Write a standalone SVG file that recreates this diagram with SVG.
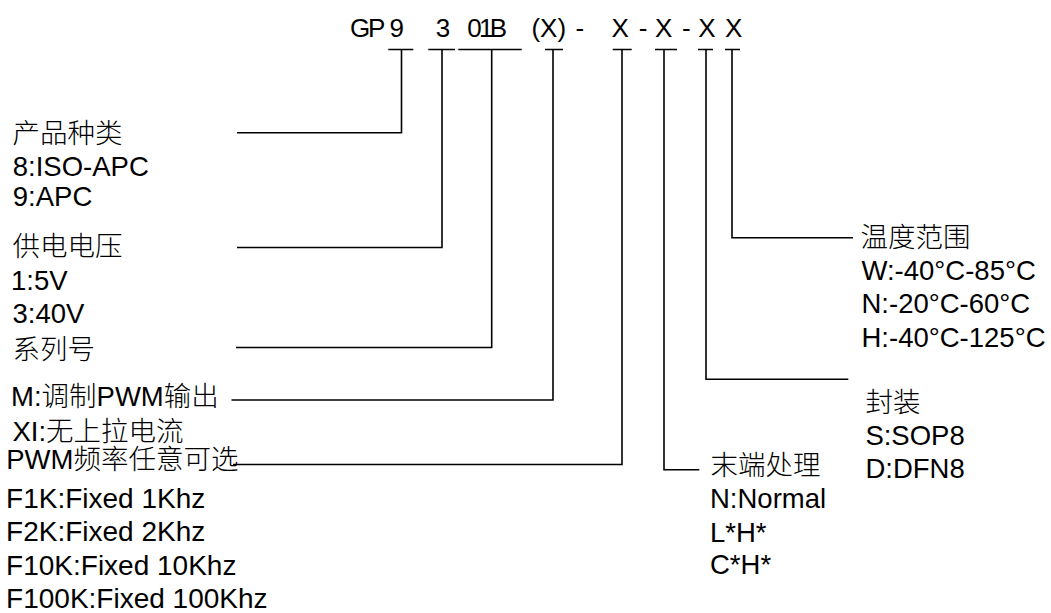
<svg xmlns="http://www.w3.org/2000/svg" width="1051" height="613" viewBox="0 0 1051 613">
<style>
text{font-family:"Liberation Sans","Noto Sans CJK SC",sans-serif;font-size:27.5px;fill:#000}
.title{font-size:26px}
.cjk{font-weight:300}
.f{font-size:28px}
.ln{fill:none;stroke:#000;stroke-width:1.6}
</style>
<rect width="1051" height="613" fill="#fff"/>
<g id="title">
<text class="title" x="350 368 389.5 435.7 467.2 479 489.8 531.4 540 557.5 575.5 611.6 638.8 655 682 698.2 725" y="36.7">GP9301B(X)-X-X-XX</text>
</g>
<g id="connectors">
<path class="ln" d="M388.3,49.5H413.3M428.3,49.5H455M458.3,49.5H521.7M545,49.5H563M612.7,49.5H631.7M655,49.5H677M698,49.5H713M725,49.5H740"/>
<path class="ln" d="M237,132.7H401.5V49.5"/>
<path class="ln" d="M237,247.5H442V49.5"/>
<path class="ln" d="M236,347.5H491.7V49.5"/>
<path class="ln" d="M231.5,400H553V49.5"/>
<path class="ln" d="M233,464.5H622V49.5"/>
<path class="ln" d="M699.3,469.8H664V49.5"/>
<path class="ln" d="M848.3,379.3H706V49.5"/>
<path class="ln" d="M853,237.7H732V49.5"/>
</g>
<g id="product-type">
<text class="cjk" x="12.5" y="143">产品种类</text>
<text x="12.8" y="175.5">8:ISO-APC</text>
<text x="12.8" y="206">9:APC</text>
</g>
<g id="supply-voltage">
<text class="cjk" x="12.5" y="256">供电电压</text>
<text x="11" y="290">1:5V</text>
<text x="12.5" y="323.3">3:40V</text>
</g>
<g id="series">
<text class="cjk" x="12.5" y="358.5">系列号</text>
</g>
<g id="output">
<text class="cjk" x="11" y="406">M:调制PWM输出</text>
<text class="cjk" x="12.5" y="441">XI:无上拉电流</text>
</g>
<g id="pwm-freq">
<text class="cjk" x="6.2" y="469">PWM频率任意可选</text>
<text class="f" x="6.1" y="507.5">F1K:Fixed 1Khz</text>
<text class="f" x="6.1" y="541">F2K:Fixed 2Khz</text>
<text class="f" x="6.1" y="574.5">F10K:Fixed 10Khz</text>
<text class="f" x="6.1" y="608">F100K:Fixed 100Khz</text>
</g>
<g id="end-process">
<text class="cjk" x="710.5" y="475">末端处理</text>
<text x="710" y="508">N:Normal</text>
<text x="710" y="541.5">L*H*</text>
<text x="710" y="574">C*H*</text>
</g>
<g id="package">
<text class="cjk" x="865.5" y="412">封装</text>
<text x="865.4" y="445">S:SOP8</text>
<text x="865.4" y="477.5">D:DFN8</text>
</g>
<g id="temperature">
<text class="cjk" x="860.5" y="247">温度范围</text>
<text x="861.5" y="280">W:-40°C-85°C</text>
<text x="861.5" y="313.3">N:-20°C-60°C</text>
<text x="861.5" y="346.7">H:-40°C-125°C</text>
</g>
</svg>
